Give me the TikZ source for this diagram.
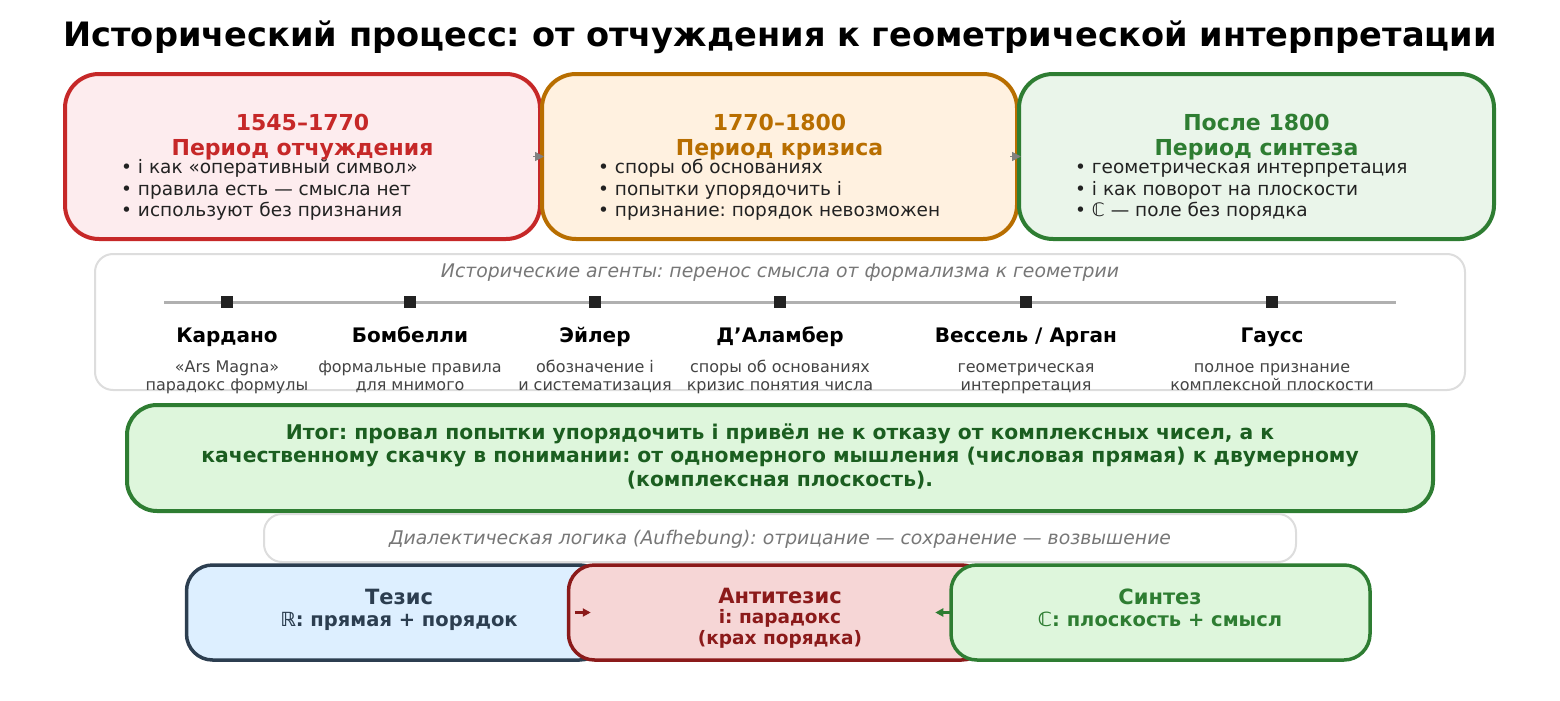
\documentclass[tikz,border=0pt]{standalone}
\usepackage{fontspec}
\setmainfont{DejaVu Sans}
\usepackage{xcolor}
\usetikzlibrary{arrows.meta, positioning, calc}
\frenchspacing

\definecolor{alienRed}{HTML}{C62828}
\definecolor{alienFill}{HTML}{FDECEE}
\definecolor{crisisOrange}{HTML}{B86E00}
\definecolor{crisisFill}{HTML}{FFF1E0}
\definecolor{synthGreen}{HTML}{2E7D32}
\definecolor{synthFill}{HTML}{EAF5EA}
\definecolor{resultFill}{HTML}{DEF6DC}
\definecolor{resultText}{HTML}{1B5E20}
\definecolor{thesisInk}{HTML}{2C3E50}
\definecolor{thesisFill}{HTML}{DDEFFF}
\definecolor{antiRed}{HTML}{8B1A1A}
\definecolor{antiFill}{HTML}{F6D6D6}
\definecolor{panelGray}{HTML}{DDDDDD}
\definecolor{noteGray}{HTML}{777777}
\definecolor{lineGray}{HTML}{B0B0B0}
\definecolor{markBlack}{HTML}{222222}
\definecolor{ink}{HTML}{222222}
\definecolor{descGray}{HTML}{444444}

\newcommand{\pxfont}[2]{\fontsize{#1}{#2}\selectfont}

\begin{document}
\begin{tikzpicture}[x=1pt, y=-1pt,
    period/.style={rounded corners=34pt, line width=4pt, minimum width=475pt, minimum height=165pt, inner sep=0pt},
    ptitle/.style={font=\pxfont{22}{25}\bfseries, anchor=base, inner sep=0pt},
    bullets/.style={font=\pxfont{18.5}{21.5}, text=ink, align=left, anchor=north west, inner sep=0pt},
    panel/.style={draw=panelGray, fill=white, line width=2pt, rounded corners=18pt, inner sep=0pt},
    note/.style={font=\pxfont{18.8}{22}\itshape, text=noteGray, anchor=base, inner sep=0pt},
    marker/.style={fill=markBlack, minimum size=12pt, inner sep=0pt},
    agent/.style={font=\pxfont{20}{24}\bfseries, text=black, anchor=base, inner sep=0pt},
    deed/.style={font=\pxfont{16}{18}, text=descGray, align=center, anchor=north, inner sep=0pt},
    dialbox/.style={rounded corners=26pt, line width=3.5pt, minimum width=419pt, minimum height=95pt, inner sep=0pt},
    dtitle/.style={font=\pxfont{21}{24}\bfseries, anchor=base, inner sep=0pt},
    dsub/.style={font=\pxfont{19.5}{22}\bfseries, align=center, anchor=north, inner sep=0pt},
    flow/.style={-{Triangle[length=9pt, width=9pt]}, line width=1.5pt, draw=gray},
    dialflow/.style={-{Triangle[length=8pt, width=8pt]}, line width=3pt}
  ]
  \useasboundingbox (0,0) rectangle (1560,701);

  % Title
  \node[font=\pxfont{33.6}{40}\bfseries, anchor=base, inner sep=0pt] (title) at (780,47)
    {Исторический процесс: от отчуждения к геометрической интерпретации};

  % Periods
  \node[period, draw=alienRed, fill=alienFill] (alien) at (302.5,156.5) {};
  \node[period, draw=crisisOrange, fill=crisisFill] (crisis) at (779.5,156.5) {};
  \node[period, draw=synthGreen, fill=synthFill] (synthesis) at (1256.5,156.5) {};

  \node[ptitle, text=alienRed] (alienYear) at (302.5,130) {1545–1770};
  \node[ptitle, text=alienRed] (alienName) at (302.5,155) {Период отчуждения};
  \node[bullets] (alienList) at (121,158.5) {\strut• i как «оперативный символ»\\
    • правила есть — смысла нет\\• используют без признания};

  \node[ptitle, text=crisisOrange] (crisisYear) at (779.5,130) {1770–1800};
  \node[ptitle, text=crisisOrange] (crisisName) at (779.5,155) {Период кризиса};
  \node[bullets] (crisisList) at (598,158.5) {\strut• споры об основаниях\\
    • попытки упорядочить i\\• признание: порядок невозможен};

  \node[ptitle, text=synthGreen] (synthesisYear) at (1256.5,130) {После 1800};
  \node[ptitle, text=synthGreen] (synthesisName) at (1256.5,155) {Период синтеза};
  \node[bullets] (synthesisList) at (1075,158.5) {\strut• геометрическая интерпретация\\
    • i как поворот на плоскости\\• ℂ — поле без порядка};

  \draw[flow] ([xshift=-7pt]crisis.west) -- ([xshift=4pt]crisis.west);
  \draw[flow] ([xshift=-7pt]synthesis.west) -- ([xshift=4pt]synthesis.west);

  % Agents
  \node[panel, minimum width=1370pt, minimum height=136pt] (agents) at (780,322) {};
  \node[note] (agentsNote) at (780,277) {Исторические агенты: перенос смысла от формализма к геометрии};
  \coordinate (lineStart) at (164,302);
  \coordinate (lineEnd) at (1396,302);
  \draw[draw=lineGray, line width=3pt] (lineStart) -- (lineEnd);
  \foreach \x/\who/\what [count=\i] in {
      227/Кардано/{«Ars Magna»\\парадокс формулы},
      410/Бомбелли/{формальные правила\\для мнимого},
      595/Эйлер/{обозначение i\\и систематизация},
      780/Д’Аламбер/{споры об основаниях\\кризис понятия числа},
      1026/{Вессель / Арган}/{геометрическая\\интерпретация},
      1272/Гаусс/{полное признание\\комплексной плоскости}} {
    \node[marker] (mark\i) at (\x,302) {};
    \node[agent] (who\i) at (\x,342) {\who};
    \node[deed] (what\i) at (\x,359.4) {\strut\what};
  }

  % Result
  \node[draw=synthGreen, fill=resultFill, line width=4pt, rounded corners=30pt,
    minimum width=1306pt, minimum height=106pt, inner sep=0pt] (result) at (780,458) {};
  \node[font=\pxfont{20.3}{23.5}\bfseries, text=resultText, align=center, anchor=north, inner sep=0pt]
    (resultText) at (780,422.5) {\strut Итог: провал попытки упорядочить i привёл не к отказу от комплексных чисел, а к\\
    качественному скачку в понимании: от одномерного мышления (числовая прямая) к двумерному\\
    (комплексная плоскость).};

  % Dialectics
  \node[panel, minimum width=1032pt, minimum height=48pt] (dialectics) at (780,538) {};
  \node[note] (dialecticsNote) at (780,544) {Диалектическая логика (Aufhebung): отрицание — сохранение — возвышение};

  \node[dialbox, draw=thesisInk, fill=thesisFill] (thesis) at (396,612.5) {};
  \node[dialbox, draw=antiRed, fill=antiFill] (anti) at (778,612.5) {};
  \node[dialbox, draw=synthGreen, fill=resultFill] (synth) at (1160.5,612.5) {};

  \node[dtitle, text=thesisInk] (thesisName) at (399,604) {Тезис};
  \node[dsub, text=thesisInk] (thesisText) at (399,611) {\strut ℝ: прямая + порядок};
  \node[dtitle, text=antiRed] (antiName) at (780,603) {Антитезис};
  \node[dsub, font=\pxfont{18.5}{19.5}\bfseries, text=antiRed] (antiText) at (780,609) {\strut i: парадокс\\(крах порядка)};
  \node[dtitle, text=synthGreen] (synthName) at (1160,604) {Синтез};
  \node[dsub, text=synthGreen] (synthText) at (1160,611) {\strut ℂ: плоскость + смысл};

  \draw[dialflow, draw=antiRed, fill=antiRed] ([xshift=8pt]anti.west) -- ([xshift=24pt]anti.west);
  \draw[dialflow, draw=synthGreen, fill=synthGreen] ([xshift=1pt]synth.west) -- ([xshift=-14pt]synth.west);
\end{tikzpicture}
\end{document}
